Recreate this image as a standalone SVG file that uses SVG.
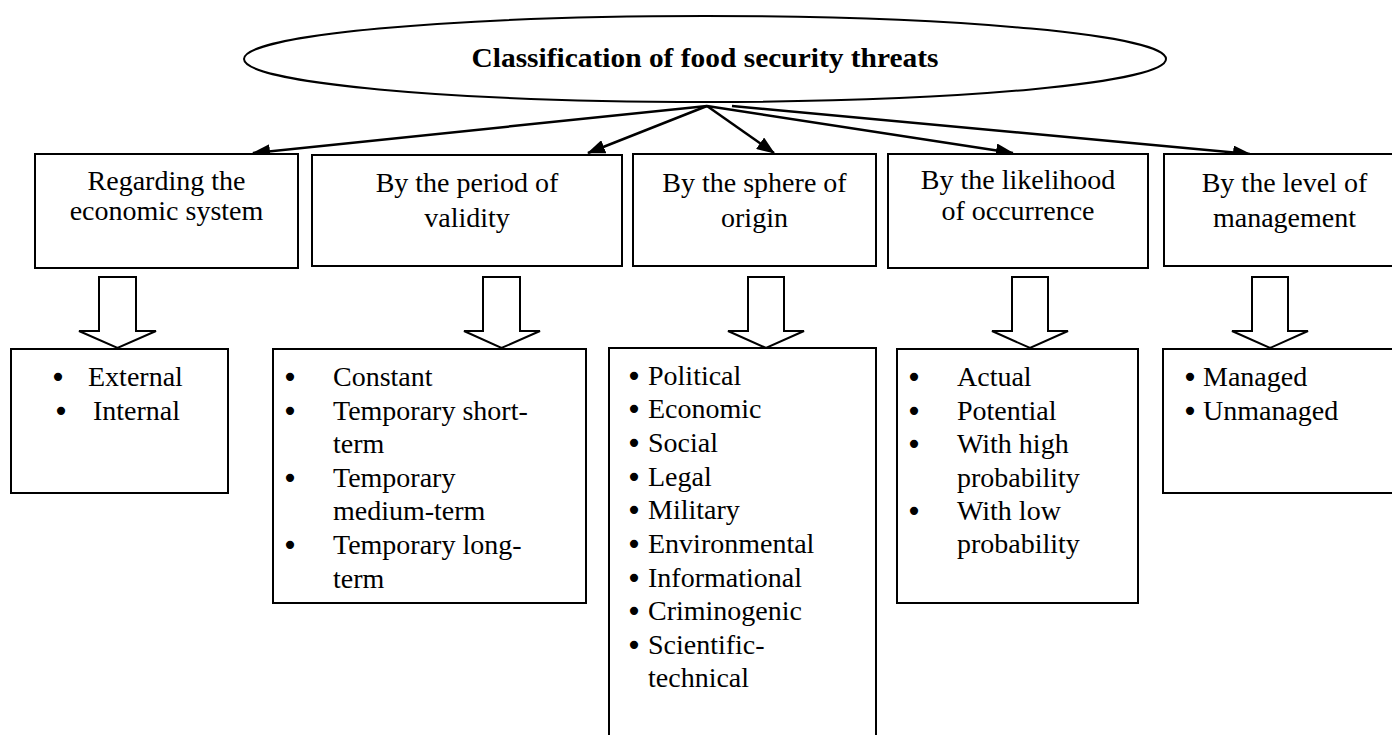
<svg xmlns="http://www.w3.org/2000/svg" width="1392" height="735" viewBox="0 0 1392 735">
  <style>
    .box { fill: #fff; stroke: #000; stroke-width: 2; }
    .oval { fill: #fff; stroke: #000; stroke-width: 2; }
    .link { stroke: #000; stroke-width: 2.5; fill: none; }
    .block { fill: #fff; stroke: #000; stroke-width: 2; stroke-linejoin: miter; }
    .title { font-family: "Liberation Serif", "Times New Roman", serif; font-weight: bold; font-size: 27px; fill: #000; text-anchor: middle; }
    .head { font-family: "Liberation Serif", "Times New Roman", serif; font-size: 28px; fill: #000; text-anchor: middle; }
    .item { font-family: "Liberation Serif", "Times New Roman", serif; font-size: 28px; fill: #000; }
    .dot { font-family: "DejaVu Sans", sans-serif; font-size: 28px; fill: #000; text-anchor: middle; }
  </style>
  <defs>
    <marker id="arrow" markerUnits="userSpaceOnUse" markerWidth="18" markerHeight="14" refX="17" refY="7" orient="auto">
      <path d="M0,0 L18,7 L0,14 Z" fill="#000"/>
    </marker>
  </defs>

  <rect width="1392" height="735" fill="#fff"/>

  <!-- root -->
  <g id="root">
    <ellipse class="oval" cx="705" cy="59" rx="461" ry="43"/>
    <text class="title" x="705" y="67" textLength="467" lengthAdjust="spacingAndGlyphs">Classification of food security threats</text>
  </g>

  <!-- connectors from the root to the category boxes -->
  <g id="connectors">
    <line class="link" x1="707" y1="106" x2="253" y2="153" marker-end="url(#arrow)"/>
    <line class="link" x1="707" y1="106" x2="588" y2="153" marker-end="url(#arrow)"/>
    <line class="link" x1="707" y1="106" x2="774" y2="153" marker-end="url(#arrow)"/>
    <line class="link" x1="707" y1="106" x2="1013" y2="153" marker-end="url(#arrow)"/>
    <line class="link" x1="732" y1="106" x2="1250" y2="154" marker-end="url(#arrow)"/>
    <!-- hollow block arrows from categories to their lists -->
    <polygon class="block" points="99,277 136,277 136,331 156,331 117.5,348 79,331 99,331"/>
    <polygon class="block" points="483,277 520,277 520,331 540,331 501.5,348 464,331 483,331"/>
    <polygon class="block" points="748,277 784,277 784,331 804,331 766,348 728,331 748,331"/>
    <polygon class="block" points="1012,277 1048,277 1048,331 1068,331 1030,348 992,331 1012,331"/>
    <polygon class="block" points="1252,277 1288,277 1288,331 1308,331 1270,348 1232,331 1252,331"/>
  </g>

  <!-- category boxes -->
  <g id="cat-economic-system">
    <rect class="box" x="35" y="154" width="263" height="114"/>
    <text class="head" x="166.5" y="190">Regarding the</text>
    <text class="head" x="166.5" y="220">economic system</text>
  </g>
  <g id="cat-period">
    <rect class="box" x="312" y="155" width="310" height="111"/>
    <text class="head" x="467" y="192">By the period of</text>
    <text class="head" x="467" y="227">validity</text>
  </g>
  <g id="cat-sphere">
    <rect class="box" x="633" y="154" width="243" height="112"/>
    <text class="head" x="754.5" y="192">By the sphere of</text>
    <text class="head" x="754.5" y="227">origin</text>
  </g>
  <g id="cat-likelihood">
    <rect class="box" x="888" y="154" width="260" height="114"/>
    <text class="head" x="1018" y="189">By the likelihood</text>
    <text class="head" x="1018" y="220">of occurrence</text>
  </g>
  <g id="cat-management">
    <rect class="box" x="1164" y="154" width="250" height="112"/>
    <text class="head" x="1284.5" y="192">By the level of</text>
    <text class="head" x="1284.5" y="227">management</text>
  </g>

  <!-- lists of threat types -->
  <g id="list-economic-system">
    <rect class="box" x="11" y="349" width="217" height="144"/>
    <text class="dot" x="58" y="387">•</text>
    <text class="item" x="88" y="386">External</text>
    <text class="dot" x="61" y="421">•</text>
    <text class="item" x="93" y="420">Internal</text>
  </g>
  <g id="list-period">
    <rect class="box" x="273" y="349" width="313" height="254"/>
    <text class="dot" x="290" y="387">•</text>
    <text class="item" x="333" y="386">Constant</text>
    <text class="dot" x="290" y="421">•</text>
    <text class="item" x="333" y="420">Temporary short-</text>
    <text class="item" x="333" y="453">term</text>
    <text class="dot" x="290" y="488">•</text>
    <text class="item" x="333" y="487">Temporary</text>
    <text class="item" x="333" y="520">medium-term</text>
    <text class="dot" x="290" y="555">•</text>
    <text class="item" x="333" y="554">Temporary long-</text>
    <text class="item" x="333" y="588">term</text>
  </g>
  <g id="list-sphere">
    <rect class="box" x="609" y="348" width="267" height="400"/>
    <text class="dot" x="634" y="386">•</text>
    <text class="item" x="648" y="385">Political</text>
    <text class="dot" x="634" y="419">•</text>
    <text class="item" x="648" y="418">Economic</text>
    <text class="dot" x="634" y="453">•</text>
    <text class="item" x="648" y="452">Social</text>
    <text class="dot" x="634" y="487">•</text>
    <text class="item" x="648" y="486">Legal</text>
    <text class="dot" x="634" y="520">•</text>
    <text class="item" x="648" y="519">Military</text>
    <text class="dot" x="634" y="554">•</text>
    <text class="item" x="648" y="553">Environmental</text>
    <text class="dot" x="634" y="588">•</text>
    <text class="item" x="648" y="587">Informational</text>
    <text class="dot" x="634" y="621">•</text>
    <text class="item" x="648" y="620">Criminogenic</text>
    <text class="dot" x="634" y="655">•</text>
    <text class="item" x="648" y="654">Scientific-</text>
    <text class="item" x="648" y="687">technical</text>
  </g>
  <g id="list-likelihood">
    <rect class="box" x="897" y="349" width="241" height="254"/>
    <text class="dot" x="914" y="387">•</text>
    <text class="item" x="957" y="386">Actual</text>
    <text class="dot" x="914" y="421">•</text>
    <text class="item" x="957" y="420">Potential</text>
    <text class="dot" x="914" y="454">•</text>
    <text class="item" x="957" y="453">With high</text>
    <text class="item" x="957" y="487">probability</text>
    <text class="dot" x="914" y="521">•</text>
    <text class="item" x="957" y="520">With low</text>
    <text class="item" x="957" y="553">probability</text>
  </g>
  <g id="list-management">
    <rect class="box" x="1163" y="349" width="250" height="144"/>
    <text class="dot" x="1190" y="387">•</text>
    <text class="item" x="1203" y="386">Managed</text>
    <text class="dot" x="1190" y="421">•</text>
    <text class="item" x="1203" y="420">Unmanaged</text>
  </g>
</svg>
